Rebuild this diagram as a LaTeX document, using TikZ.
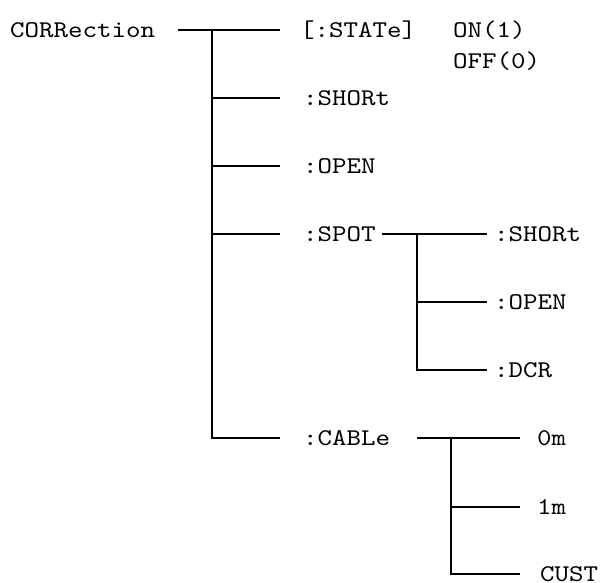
\documentclass[tikz,border=0pt]{standalone}
\usepackage{fontspec}
\setmonofont{lmmono10-regular}[Extension=.otf,FakeStretch=1.15]
\begin{document}
\begin{tikzpicture}[x=1pt,y=-1pt,
  lbl/.style={anchor=base west,inner sep=0pt,font=\ttfamily\fontsize{24}{28}\selectfont},
  wire/.style={line width=1.6pt,draw=black}]
\useasboundingbox (0,0) rectangle (600,582);
% texts
\node[lbl] (root) at (10,37) {CORRection};
\node[lbl] (state) at (300,37) {[:STATe]};
\node[lbl] (on) at (453,37) {ON(1)};
\node[lbl] (off) at (453,68) {OFF(0)};
\node[lbl] (short) at (303,105) {:SHORt};
\node[lbl] (open) at (303,173) {:OPEN};
\node[lbl] (spot) at (303,241) {:SPOT};
\node[lbl] (cable) at (303,445) {:CABLe};
\node[lbl] (sshort) at (494,241) {:SHORt};
\node[lbl] (sopen) at (494,309) {:OPEN};
\node[lbl] (sdcr) at (494,377) {:DCR};
\node[lbl] (c0) at (537,445) {0m};
\node[lbl] (c1) at (537,514) {1m};
\node[lbl] (cc) at (540,581) {CUST};
% junction coordinates
\coordinate (r0) at (178,30);
\coordinate (j1) at (212,30);
\coordinate (e1) at (280,30);
\coordinate (j2) at (212,98);
\coordinate (e2) at (280,98);
\coordinate (j3) at (212,166);
\coordinate (e3) at (280,166);
\coordinate (j4) at (212,234);
\coordinate (e4) at (280,234);
\coordinate (j5) at (212,438);
\coordinate (e5) at (280,438);
\coordinate (s0) at (382,234);
\coordinate (k1) at (417,234);
\coordinate (f1) at (487,234);
\coordinate (k2) at (417,302);
\coordinate (f2) at (487,302);
\coordinate (k3) at (417,370);
\coordinate (f3) at (487,370);
\coordinate (t0) at (417,438);
\coordinate (m1) at (451,438);
\coordinate (g1) at (520,438);
\coordinate (m2) at (451,507);
\coordinate (g2) at (520,507);
\coordinate (m3) at (451,574);
\coordinate (g3) at (520,574);
% connectors
\draw[wire] (r0) -- (e1);
\draw[wire] (j1) -- (j5) -- (e5);
\draw[wire] (j2) -- (e2);
\draw[wire] (j3) -- (e3);
\draw[wire] (j4) -- (e4);
\draw[wire] (s0) -- (f1);
\draw[wire] (k1) -- (k3) -- (f3);
\draw[wire] (k2) -- (f2);
\draw[wire] (t0) -- (g1);
\draw[wire] (m1) -- (m3) -- (g3);
\draw[wire] (m2) -- (g2);
\end{tikzpicture}
\end{document}
